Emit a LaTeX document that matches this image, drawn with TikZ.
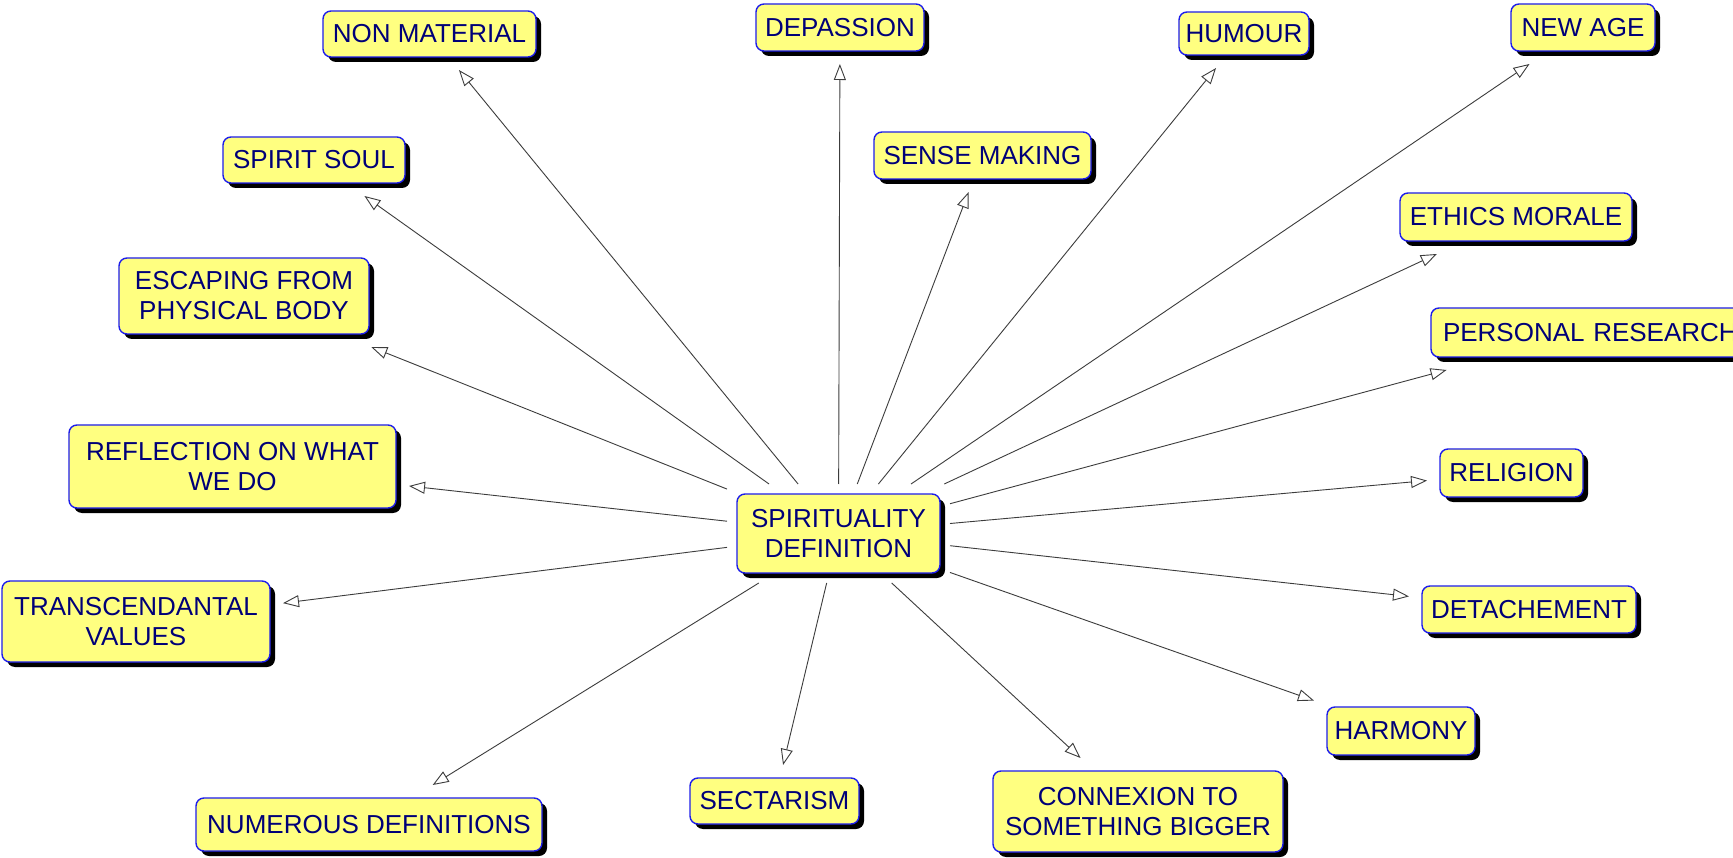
\documentclass[tikz,border=0pt]{standalone}
\usepackage{fontspec}
\setmainfont{Liberation Sans}
\usetikzlibrary{arrows.meta,shadows}
\definecolor{boxfill}{RGB}{255,255,128}
\definecolor{boxline}{RGB}{30,30,235}
\definecolor{boxtext}{RGB}{0,0,120}
\definecolor{arrowcol}{RGB}{60,60,60}
\tikzset{
  concept/.style={draw=boxline, line width=1.4pt, fill=boxfill, rounded corners=8pt,
    text=boxtext, align=center, inner sep=0pt, outer sep=13pt,
    font=\fontsize{26}{30}\selectfont,
    drop shadow={shadow xshift=5pt, shadow yshift=-5pt, opacity=1, fill=black}},
  hub/.style={concept, outer sep=10pt},
  link/.style={draw=arrowcol, line width=0.9pt,
    -{Triangle[open, length=16pt, width=12pt]}}
}
\begin{document}
\begin{tikzpicture}[x=1pt,y=-1pt]
\useasboundingbox (0,0) rectangle (1733,858);
\clip (0,0) rectangle (1733,858);
\fill[white] (0,0) rectangle (1733,858);

\node[hub, minimum width=203pt, minimum height=79pt] (c) at (838.5,533.5) {SPIRITUALITY\\DEFINITION};

\node[concept, minimum width=213pt, minimum height=46pt] (nonmat) at (429.5,34) {NON MATERIAL};
\node[concept, minimum width=168pt, minimum height=47pt] (depass) at (840,27.5) {DEPASSION};
\node[concept, minimum width=130pt, minimum height=43pt] (humour) at (1244,33.5) {HUMOUR};
\node[concept, minimum width=144pt, minimum height=47pt] (newage) at (1583,27.5) {NEW AGE};
\node[concept, minimum width=182pt, minimum height=46pt] (spirit) at (314,160) {SPIRIT SOUL};
\node[concept, minimum width=217pt, minimum height=47pt] (sense) at (982.5,155.5) {SENSE MAKING};
\node[concept, minimum width=232pt, minimum height=48pt] (ethics) at (1516,217) {ETHICS MORALE};
\node[concept, minimum width=250pt, minimum height=76pt] (escape) at (244,296) {ESCAPING FROM\\PHYSICAL BODY};
\node[concept, minimum width=310pt, minimum height=49pt, text width=286pt, align=left] (personal) at (1586,332.5) {\mbox{PERSONAL RESEARCH}};
\node[concept, minimum width=327pt, minimum height=83pt] (reflect) at (232.5,466.5) {REFLECTION ON WHAT\\WE DO};
\node[concept, minimum width=143pt, minimum height=48pt] (religion) at (1511.5,473) {RELIGION};
\node[concept, minimum width=268pt, minimum height=81pt] (transc) at (136,621.5) {TRANSCENDANTAL\\VALUES};
\node[concept, minimum width=214pt, minimum height=47pt] (detach) at (1529,609.5) {DETACHEMENT};
\node[concept, minimum width=148pt, minimum height=48pt] (harmony) at (1401,731) {HARMONY};
\node[concept, minimum width=346pt, minimum height=53pt] (numerous) at (369,824.5) {NUMEROUS DEFINITIONS};
\node[concept, minimum width=169pt, minimum height=46pt] (sect) at (774.5,801) {SECTARISM};
\node[concept, minimum width=290pt, minimum height=81pt] (connex) at (1138,811.5) {CONNEXION TO\\SOMETHING BIGGER};

\foreach \t in {nonmat,depass,humour,newage,spirit,sense,ethics,escape,personal,reflect,religion,transc,detach,harmony,numerous,sect,connex}
  \draw[link] (c) -- (\t);
\end{tikzpicture}
\end{document}
